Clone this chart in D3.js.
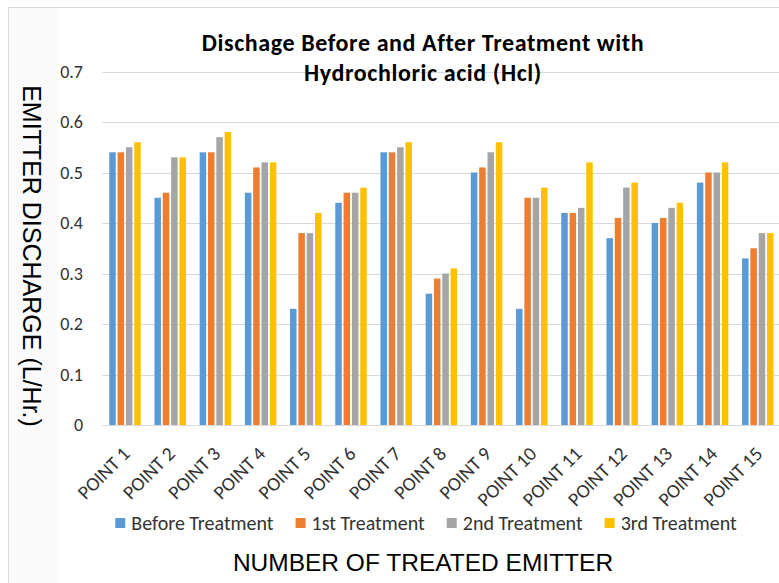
<!DOCTYPE html>
<html>
<head>
<meta charset="utf-8">
<script src="https://cdn.jsdelivr.net/npm/d3@7"></script>
<style>
  html, body { margin: 0; padding: 0; background: #fff; }
  svg { display: block; }
</style>
</head>
<body>
<script>
const categories = ["POINT 1","POINT 2","POINT 3","POINT 4","POINT 5","POINT 6","POINT 7","POINT 8","POINT 9","POINT 10","POINT 11","POINT 12","POINT 13","POINT 14","POINT 15"];
const seriesNames = ["Before Treatment","1st Treatment","2nd Treatment","3rd Treatment"];
const beforeTreatment = [0.54,0.45,0.54,0.46,0.23,0.44,0.54,0.26,0.50,0.23,0.42,0.37,0.40,0.48,0.33];
const firstTreatment  = [0.54,0.46,0.54,0.51,0.38,0.46,0.54,0.29,0.51,0.45,0.42,0.41,0.41,0.50,0.35];
const secondTreatment = [0.55,0.53,0.57,0.52,0.38,0.46,0.55,0.30,0.54,0.45,0.43,0.47,0.43,0.50,0.38];
const thirdTreatment  = [0.56,0.53,0.58,0.52,0.42,0.47,0.56,0.31,0.56,0.47,0.52,0.48,0.44,0.52,0.38];
const yTicks = [0,0.1,0.2,0.3,0.4,0.5,0.6,0.7];
const colors = ["#5B9BD5","#ED7D31","#A5A5A5","#FFC000"];
const titleLines = ["Dischage Before and After Treatment with","Hydrochloric acid (Hcl)"];
const yTitle = "EMITTER DISCHARGE (L/Hr.)";
const xTitle = "NUMBER OF TREATED EMITTER";

const seriesValues = [beforeTreatment, firstTreatment, secondTreatment, thirdTreatment];
const W = 779, H = 583;
const calibri = "Carlito, Calibri, Lato, 'Open Sans', sans-serif";
const arial = "'Liberation Sans', Arial, sans-serif";

const svg = d3.select("body").append("svg").attr("width", W).attr("height", H);

// frame
svg.append("rect").attr("x", 8).attr("y", 7).attr("width", 49).attr("height", H - 7).attr("fill", "#fafafa");
svg.append("line").attr("x1", 8.5).attr("x2", 8.5).attr("y1", 7).attr("y2", H).attr("stroke", "#d9d9d9");
svg.append("line").attr("x1", 8).attr("x2", W).attr("y1", 7.5).attr("y2", 7.5).attr("stroke", "#d9d9d9");

const plotL = 102.4, plotR = 780.4, y0 = 425, yTop = 71.5;
const x0 = d3.scaleBand().domain(categories).range([plotL, plotR]).paddingInner(0).paddingOuter(0);
const x1 = d3.scaleBand().domain(seriesNames).range([0, x0.bandwidth()]).paddingInner(0.22).paddingOuter(0.823);
const y = d3.scaleLinear().domain([0, 0.7]).range([y0, yTop]);

// gridlines
svg.append("g").selectAll("line").data(yTicks).join("line")
  .attr("x1", plotL).attr("x2", W)
  .attr("y1", d => Math.round(y(d)) + 0.5).attr("y2", d => Math.round(y(d)) + 0.5)
  .attr("stroke", "#d9d9d9").attr("stroke-width", 1);

// y tick labels
svg.append("g").selectAll("text").data(yTicks).join("text")
  .attr("x", 83).attr("y", d => y(d)).attr("dy", "0.35em")
  .attr("text-anchor", "end").attr("font-family", calibri).attr("font-size", 18)
  .attr("fill", "#333").text(d => d === 0 ? "0" : d3.format(".1f")(d));

// bars
const groups = svg.append("g").selectAll("g").data(categories).join("g")
  .attr("transform", d => `translate(${x0(d)},0)`);
groups.selectAll("rect").data((c, i) => seriesNames.map((s, j) => ({ s, j, v: seriesValues[j][i] })))
  .join("rect")
  .attr("x", d => x1(d.s)).attr("width", x1.bandwidth())
  .attr("y", d => y(d.v)).attr("height", d => y0 - y(d.v))
  .attr("fill", d => colors[d.j]);

// x tick labels
svg.append("g").selectAll("text").data(categories).join("text")
  .attr("transform", d => `translate(${x0(d) + x0.bandwidth() / 2 + 6},${y0 + 30}) rotate(-45)`)
  .attr("text-anchor", "end").attr("font-family", calibri).attr("font-size", 19.5)
  .attr("fill", "#333").text(d => d);

// title
svg.append("g").selectAll("text").data(titleLines).join("text")
  .attr("x", 423).attr("y", (d, i) => 51 + i * 30)
  .attr("text-anchor", "middle").attr("font-family", calibri).attr("font-weight", "bold")
  .attr("font-size", 24).attr("letter-spacing", 0.6).attr("fill", "#000").text(d => d);

// y title
svg.append("text")
  .attr("transform", "translate(32,256) rotate(90)")
  .attr("text-anchor", "middle").attr("dy", "0.35em")
  .attr("font-family", arial).attr("font-size", 25).attr("fill", "#000").text(yTitle);

// x title
svg.append("text").attr("x", 423).attr("y", 562).attr("dy", "0.35em")
  .attr("text-anchor", "middle").attr("font-family", arial).attr("font-size", 24.5)
  .attr("fill", "#000").text(xTitle);

// legend
const leg = svg.append("g");
const items = leg.selectAll("g").data(seriesNames).join("g");
items.append("rect").attr("width", 10).attr("height", 10).attr("y", -5).attr("fill", (d, i) => colors[i]);
items.append("text").attr("x", 16).attr("dy", "0.35em").attr("font-family", calibri)
  .attr("font-size", 20).attr("fill", "#333").text(d => d);
let cx = 0;
const offs = [];
items.each(function () {
  const w = d3.select(this).select("text").node().getComputedTextLength();
  offs.push(cx);
  cx += 16 + w + 22;
});
const total = cx - 22;
const startX = 426 - total / 2;
items.attr("transform", (d, i) => `translate(${startX + offs[i]},523)`);
</script>
</body>
</html>
